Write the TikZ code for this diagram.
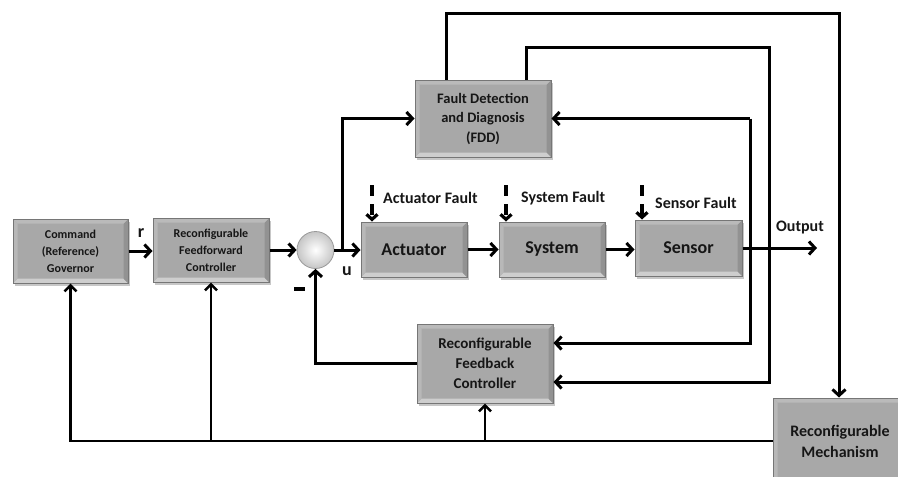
\documentclass[tikz,border=0pt]{standalone}
\usepackage{fontspec}
\setmainfont{Carlito}
\usetikzlibrary{arrows.meta,shadows}

\definecolor{boxfill}{RGB}{168,168,168}
\definecolor{boxedge}{RGB}{118,118,118}
\definecolor{bevtop}{RGB}{186,186,186}
\definecolor{bevbot}{RGB}{206,206,206}
\definecolor{bevside}{RGB}{146,146,146}
\definecolor{inkc}{RGB}{22,22,22}

\tikzset{
  blockbox/.style={rectangle, draw=boxedge, line width=1pt, fill=boxfill,
    inner sep=0pt, align=center, text=inkc,
    drop shadow={shadow xshift=1.5pt, shadow yshift=-2.5pt, fill=black, opacity=0.22},
    path picture={
      % bevelled rim: light bottom band, darker right band, soft top/left bands
      \fill[bevbot] (path picture bounding box.south west) -- ++(4.5pt,4.5pt)
        -- ([shift={(-4.5pt,4.5pt)}]path picture bounding box.south east)
        -- (path picture bounding box.south east) -- cycle;
      \fill[bevside] (path picture bounding box.south east) -- ++(-4.5pt,4.5pt)
        -- ([shift={(-4.5pt,-4.5pt)}]path picture bounding box.north east)
        -- (path picture bounding box.north east) -- cycle;
      \fill[bevtop] (path picture bounding box.north west) -- ++(4.5pt,-4.5pt)
        -- ([shift={(-4.5pt,-4.5pt)}]path picture bounding box.north east)
        -- (path picture bounding box.north east) -- cycle;
      \fill[bevtop!90!boxfill] (path picture bounding box.north west) -- ++(4.5pt,-4.5pt)
        -- ([shift={(4.5pt,4.5pt)}]path picture bounding box.south west)
        -- (path picture bounding box.south west) -- cycle;
    }},
  smallbox/.style={blockbox, font=\bfseries\fontsize{12}{17}\selectfont},
  bigbox/.style={blockbox, font=\bfseries\fontsize{18}{21}\selectfont},
  sumnode/.style={circle, minimum size=37pt, inner sep=0pt, draw=gray!80,
    line width=0.8pt, inner color=white, outer color=gray!45},
  conn/.style={line width=3pt, draw=black, line join=miter},
  arr/.style={conn, -{Straight Barb[length=6pt,width=13pt]}},
  arrthin/.style={line width=2.6pt, draw=black, -{Straight Barb[length=6pt,width=12pt]}},
  faultarr/.style={line width=3.2pt, dash pattern=on 11pt off 8pt,
    -{Straight Barb[length=5pt,width=11pt]}},
  lbl/.style={font=\bfseries\fontsize{16}{19}\selectfont, text=inkc, inner sep=0pt},
}

\begin{document}
\begin{tikzpicture}[x=1pt,y=-1pt]
\useasboundingbox (0,0) rectangle (898,477);
\clip (0,0) rectangle (898,477);

% blocks
\node[smallbox, minimum width=115pt, minimum height=64pt] (gov) at (70.5,251)
  {Command\\(Reference)\\Governor};
\node[smallbox, minimum width=116pt, minimum height=64pt] (ff) at (211,250)
  {Reconfigurable\\Feedforward\\Controller};
\node[sumnode] (sum) at (315.5,250) {};
\node[bigbox, minimum width=106pt, minimum height=55pt] (act) at (414,249.5) {Actuator};
\node[bigbox, minimum width=106pt, minimum height=55pt] (sys) at (552,249.5) {System};
\node[bigbox, minimum width=107pt, minimum height=56pt] (sen) at (688.5,248) {Sensor};
\node[blockbox, minimum width=136pt, minimum height=77pt,
  font=\bfseries\fontsize{14.5}{19.5}\selectfont] (fdd) at (483,118.5)
  {Fault Detection\\and Diagnosis\\(FDD)};
\node[blockbox, minimum width=136pt, minimum height=79pt,
  font=\bfseries\fontsize{15}{20}\selectfont] (fb) at (485,363.5)
  {Reconfigurable\\Feedback\\Controller};
\node[blockbox, minimum width=134pt, minimum height=86pt,
  font=\bfseries\fontsize{16}{21}\selectfont] (mech) at (840,441)
  {Reconfigurable\\Mechanism};

% forward path
\draw[arr] (gov.east) -- (ff.west |- gov.east);
\node[lbl, font=\bfseries\fontsize{18}{20}\selectfont] (rlab) at (141,233) {r};
\draw[arr] (ff.east) -- (sum.west);
\draw[arr] (sum.east) -- (act.west |- sum.east);
\node[lbl, font=\bfseries\fontsize{18}{20}\selectfont] (ulab) at (347,271) {u};
\node[fill=black, inner sep=0pt, minimum width=11pt, minimum height=3.5pt] (minus) at (299,289) {};
\draw[arr] (act.east) -- (sys.west);
\draw[arr] (sys.east) -- (sen.west |- sys.east);
\coordinate (out) at (817,248);
\draw[arr] (sen.east) -- (out);
\node[lbl] (outlab) at (800,228) {Output};

% fault inputs
\coordinate (fa) at (372,185);
\coordinate (fs) at (506,185);
\coordinate (fz) at (642,185);
\draw[faultarr] (fa) -- (fa |- act.north);
\draw[faultarr] (fs) -- (fs |- sys.north);
\draw[faultarr] (fz) -- (fz |- sen.north);
\node[lbl, anchor=west] (falab) at (383,198) {Actuator Fault};
\node[lbl, anchor=west] (fslab) at (521,198) {System Fault};
\node[lbl, anchor=west] (fzlab) at (655,203) {Sensor Fault};

% control signal to FDD
\coordinate (br) at (342,250);
\draw[arr] (br) |- (fdd.west);

% measured output to FDD and feedback controller
\coordinate (tap) at (750,118.5);
\draw[arr] (tap) -- (fdd.east);
\draw[arr] (tap) |- ([yshift=20.5pt]fb.east);

% FDD outputs
\coordinate (t1) at (839,13);
\coordinate (t2) at (769,47);
\draw[arr] (446,0 |- fdd.north) |- (t1) -- (t1 |- mech.north);
\draw[arr] (526,0 |- fdd.north) |- (t2) |- ([yshift=-18.5pt]fb.east);

% feedback to summing junction
\draw[arr] (fb.west) -| (sum.south);

% reconfiguration signals
\draw[arrthin] (mech.west) -| (gov.south);
\draw[arrthin] (ff.south |- mech.west) -- (ff.south);
\draw[arrthin] (fb.south |- mech.west) -- (fb.south);
\end{tikzpicture}
\end{document}
